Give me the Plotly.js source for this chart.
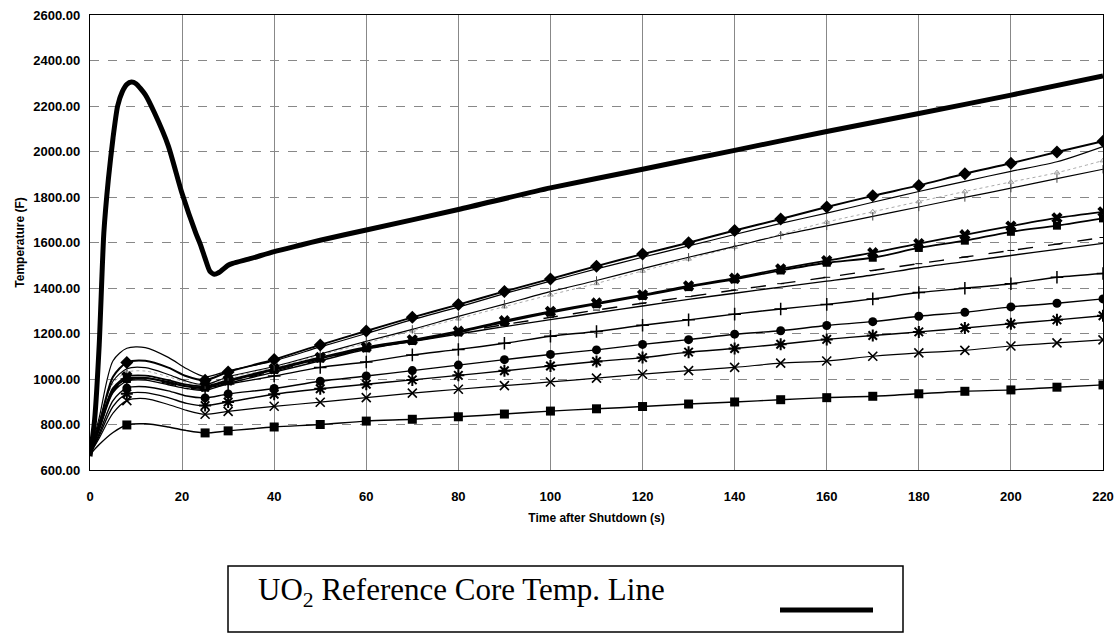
<!DOCTYPE html>
<html>
<head>
<meta charset="utf-8">
<script src="https://cdn.plot.ly/plotly-3.0.1.min.js"></script>
<style>
  html, body { margin: 0; padding: 0; background: #fff; }
  #chart { width: 1120px; height: 635px; }
</style>
</head>
<body>
<div id="chart"></div>
<script>
// ---- Data ----
const refTime = [0, 1, 2, 3, 4, 5, 6, 7, 8, 9, 10, 12, 14, 17, 20, 23, 24, 25, 26, 27, 28, 30, 31, 35, 40, 46, 50, 60, 80, 100, 120, 140, 160, 180, 200, 220];
const refTemp = [660, 820, 1150, 1640, 1880, 2060, 2200, 2262, 2295, 2305, 2298, 2250, 2170, 2025, 1815, 1640, 1590, 1530, 1475, 1460, 1468, 1500, 1508, 1530, 1560, 1590, 1610, 1655, 1745, 1840, 1922, 2005, 2088, 2167, 2248, 2332];

const time = [0, 2, 5, 8, 12, 17, 21, 25, 30, 40, 50, 60, 70, 80, 90, 100, 110, 120, 130, 140, 150, 160, 170, 180, 190, 200, 210, 220];

const seriesDiamond = [670, 800, 1010, 1072, 1080, 1050, 1012, 995, 1031, 1086, 1150, 1211, 1271, 1327, 1385, 1440, 1496, 1549, 1599, 1653, 1703, 1756, 1805, 1851, 1902, 1948, 1998, 2045];
const seriesA       = [670, 830, 1080, 1135, 1138, 1095, 1045, 1010, 1036, 1080, 1141, 1200, 1261, 1316, 1375, 1430, 1484, 1535, 1585, 1635, 1684, 1729, 1777, 1824, 1869, 1913, 1955, 2022];
const seriesFaint   = [670, 800, 980, 1030, 1035, 1010, 985, 972, 1005, 1050, 1105, 1158, 1212, 1265, 1318, 1370, 1420, 1475, 1528, 1580, 1636, 1690, 1735, 1780, 1824, 1866, 1907, 1960];
const seriesB       = [670, 810, 990, 1045, 1050, 1020, 990, 975, 1010, 1055, 1110, 1166, 1218, 1275, 1329, 1384, 1433, 1485, 1535, 1583, 1632, 1673, 1715, 1756, 1798, 1839, 1881, 1922];
const seriesXBar    = [670, 790, 960, 1010, 1015, 995, 975, 968, 995, 1045, 1095, 1140, 1172, 1210, 1256, 1297, 1334, 1370, 1409, 1443, 1484, 1520, 1555, 1595, 1634, 1672, 1708, 1735];
const seriesSquare2 = [670, 785, 950, 1000, 1005, 985, 968, 962, 990, 1040, 1090, 1135, 1167, 1205, 1250, 1292, 1329, 1365, 1404, 1438, 1477, 1511, 1533, 1576, 1608, 1647, 1674, 1706];
const seriesC       = [670, 780, 945, 995, 1000, 980, 962, 955, 985, 1035, 1085, 1136, 1171, 1205, 1239, 1271, 1303, 1333, 1362, 1391, 1419, 1447, 1477, 1507, 1536, 1565, 1593, 1622];
const seriesD       = [670, 775, 940, 990, 995, 975, 958, 950, 980, 1030, 1080, 1131, 1165, 1198, 1230, 1261, 1291, 1321, 1350, 1377, 1404, 1430, 1457, 1489, 1516, 1543, 1570, 1596];
const seriesPlus    = [670, 790, 955, 1000, 1005, 988, 968, 962, 978, 1013, 1051, 1075, 1106, 1130, 1157, 1188, 1209, 1236, 1260, 1285, 1308, 1328, 1352, 1380, 1399, 1419, 1447, 1464];
const seriesCircle  = [670, 760, 905, 960, 966, 948, 925, 917, 934, 958, 990, 1013, 1037, 1061, 1085, 1108, 1128, 1152, 1173, 1197, 1212, 1235, 1252, 1276, 1293, 1317, 1333, 1352];
const seriesStar    = [670, 750, 880, 935, 940, 918, 893, 883, 899, 933, 957, 977, 996, 1016, 1036, 1057, 1077, 1094, 1118, 1134, 1153, 1174, 1191, 1207, 1224, 1243, 1260, 1278];
const seriesX       = [670, 740, 850, 905, 914, 888, 862, 845, 858, 880, 898, 918, 938, 955, 971, 987, 1004, 1021, 1037, 1051, 1070, 1079, 1100, 1115, 1126, 1145, 1159, 1172];
const seriesSquare1 = [668, 712, 765, 798, 803, 789, 773, 763, 772, 789, 800, 815, 823, 834, 846, 859, 869, 879, 890, 899, 909, 918, 924, 935, 946, 952, 964, 974];

const xTicks = [0, 20, 40, 60, 80, 100, 120, 140, 160, 180, 200, 220];
const legendLabel = 'UO<sub>2</sub> Reference Core Temp. Line';

// ---- Build traces ----
const traces = [];
function isMarkerTime(t) { return t === 8 || t >= 25; }
function addSeries(y, lineStyle, markerStyle) {
  traces.push({
    x: time, y: y, type: 'scatter', mode: 'lines',
    line: Object.assign({ shape: 'spline', smoothing: 0.8, color: '#000', width: 1.4 }, lineStyle),
    hoverinfo: 'skip', showlegend: false
  });
  if (markerStyle) {
    const mx = [], my = [];
    time.forEach((t, i) => { if (isMarkerTime(t)) { mx.push(t); my.push(y[i]); } });
    traces.push({
      x: mx, y: my, type: 'scatter', mode: 'markers',
      marker: Object.assign({ color: '#000' }, markerStyle), hoverinfo: 'skip', showlegend: false
    });
  }
}

addSeries(seriesFaint, { color: '#aaa', width: 1, dash: 'dot' }, { symbol: 'triangle-up-open', size: 5, color: '#999', line: { color: '#999', width: 1 } });
addSeries(seriesSquare1, {}, { symbol: 'square', size: 9 });
addSeries(seriesX, { width: 1.2 }, { symbol: 'x-thin-open', size: 9, line: { color: '#000', width: 1.6 } });
addSeries(seriesStar, {}, { symbol: 'asterisk-open', size: 10, line: { color: '#000', width: 2 } });
addSeries(seriesCircle, {}, { symbol: 'circle', size: 9 });
addSeries(seriesPlus, {}, { symbol: 'cross-thin-open', size: 9, line: { color: '#000', width: 1.5 } });
addSeries(seriesD, {}, null);
addSeries(seriesC, { dash: 'longdash' }, { symbol: 'line-ew-open', size: 5, line: { color: '#000', width: 1 } });
addSeries(seriesSquare2, { width: 1.8 }, { symbol: 'square', size: 8 });
addSeries(seriesXBar, { width: 1.8 }, { symbol: 'x', size: 10 });
addSeries(seriesB, { width: 1.2 }, { symbol: 'line-ns-open', size: 6, color: '#444', line: { color: '#444', width: 1 } });
addSeries(seriesA, { width: 1.2 }, null);
addSeries(seriesDiamond, { width: 2 }, { symbol: 'diamond', size: 10 });

traces.push({
  x: refTime, y: refTemp, type: 'scatter', mode: 'lines', name: 'UO2 Reference Core Temp. Line',
  line: { shape: 'spline', smoothing: 0.6, color: '#000', width: 5 },
  hoverinfo: 'skip', showlegend: false
});

// ---- Layout ----
const L = 90, R = 1103, T = 15, B = 470;
const px = v => (v - L) / (R - L);
const py = v => (B - v) / (B - T);

const layout = {
  width: 1120, height: 635,
  margin: { l: L, r: 1120 - R, t: T, b: 635 - B },
  paper_bgcolor: '#fff', plot_bgcolor: '#fff',
  font: { family: 'Liberation Sans, Arial, sans-serif', color: '#000' },
  showlegend: false,
  xaxis: {
    range: [0, 220], tickvals: xTicks, ticks: '', ticklabelstandoff: 14,
    tickfont: { size: 13, weight: 'bold' },
    showgrid: true, gridcolor: '#888', gridwidth: 1,
    showline: true, linecolor: '#000', linewidth: 1.2, mirror: true, zeroline: false,
    title: { text: 'Time after Shutdown (s)', font: { size: 12, weight: 'bold' }, standoff: 10 }
  },
  yaxis: {
    range: [600, 2600], dtick: 200, tickformat: '.2f', ticks: '', ticklabelstandoff: 6,
    tickfont: { size: 13, weight: 'bold' },
    showgrid: true, gridcolor: '#888', gridwidth: 1, griddash: 'dash',
    showline: true, linecolor: '#000', linewidth: 1.2, mirror: true, zeroline: false,
    title: { text: 'Temperature (F)', font: { size: 12, weight: 'bold' }, standoff: 6 }
  },
  shapes: [
    { type: 'rect', xref: 'paper', yref: 'paper', x0: px(228), x1: px(903), y0: py(632), y1: py(566),
      line: { color: '#000', width: 1.5 }, fillcolor: 'rgba(0,0,0,0)' },
    { type: 'line', xref: 'paper', yref: 'paper', x0: px(780), x1: px(873), y0: py(610), y1: py(610),
      line: { color: '#000', width: 5 } }
  ],
  annotations: [
    { xref: 'paper', yref: 'paper', x: px(256), y: py(592), xanchor: 'left', yanchor: 'middle',
      text: legendLabel, showarrow: false,
      font: { family: 'Liberation Serif, Times New Roman, serif', size: 31, color: '#000' } }
  ]
};

Plotly.newPlot('chart', traces, layout, { displayModeBar: false, staticPlot: true });
</script>
</body>
</html>
